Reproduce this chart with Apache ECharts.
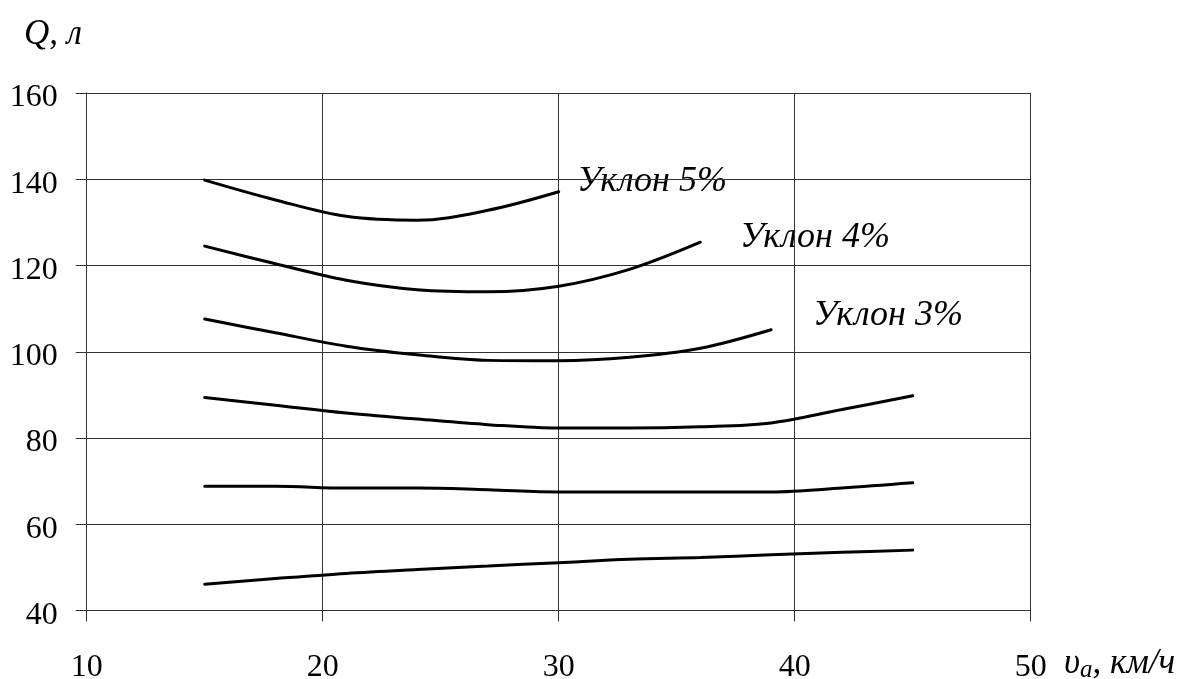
<!DOCTYPE html>
<html><head><meta charset="utf-8">
<script src="https://cdn.jsdelivr.net/npm/echarts@6/dist/echarts.min.js"></script>
<style>html,body{margin:0;padding:0;background:#fff}#c{width:1185px;height:679px}</style>
</head><body><div id="c"></div>
<script>
const speeds = [15, 18, 21, 24, 27, 30, 33, 36, 39, 42, 45];
const slope5 = [139.8, 135.2, 131.4, 130.5, 132.8, 137.1];
const slope4 = [124.5, 120.4, 116.6, 114.4, 113.9, 115.2, 119.1, 125.4];
const slope3 = [107.6, 104.4, 101.3, 99.3, 98.0, 97.9, 98.7, 100.8, 105.1];
const slope2 = [89.4, 87.6, 85.8, 84.4, 83.1, 82.3, 82.3, 82.6, 83.5, 86.6, 89.8];
const slope1 = [68.8, 68.8, 68.4, 68.4, 68.0, 67.5, 67.5, 67.5, 67.5, 68.4, 69.6];
const slope0 = [46.1, 47.4, 48.6, 49.5, 50.3, 51.1, 51.9, 52.3, 52.9, 53.5, 54.0];
const seriesNames = ['Уклон 5%', 'Уклон 4%', 'Уклон 3%', 'Уклон 2%', 'Уклон 1%', 'Уклон 0%'];
const xTicks = [10, 20, 30, 40, 50];
const yTicks = [40, 60, 80, 100, 120, 140, 160];

const font = '"Liberation Serif", "DejaVu Serif", serif';
const all = [slope5, slope4, slope3, slope2, slope1, slope0];
const chart = echarts.init(document.getElementById('c'));
chart.setOption({
  animation: false,
  grid: {left: 86.7, right: 154.3, top: 93, bottom: 68.5, containLabel: false, outerBoundsMode: 'none'},
  xAxis: {
    type: 'value', min: xTicks[0], max: xTicks[xTicks.length - 1], interval: 10,
    axisLine: {show: true, onZero: false, lineStyle: {color: '#333', width: 1}},
    axisTick: {show: true, length: 11, lineStyle: {color: '#333', width: 1}},
    axisLabel: {margin: 41, color: '#000', fontFamily: font, fontSize: 32},
    splitLine: {show: true, lineStyle: {color: '#333', width: 1}}
  },
  yAxis: {
    type: 'value', min: yTicks[0], max: yTicks[yTicks.length - 1], interval: 20,
    axisLine: {show: true, lineStyle: {color: '#333', width: 1}},
    axisTick: {show: true, length: 11, lineStyle: {color: '#333', width: 1}},
    axisLabel: {margin: 29, color: '#000', fontFamily: font, fontSize: 32,
      formatter: '{n|{value}}',
      rich: {n: {fontFamily: font, fontSize: 32, color: '#000', padding: [10, 0, 0, 0]}}},
    splitLine: {show: true, lineStyle: {color: '#333', width: 1}}
  },
  series: all.map((arr, i) => ({
    name: seriesNames[i], type: 'line', smooth: 0.35, symbol: 'none',
    lineStyle: {color: '#000', width: 3, cap: 'round'},
    data: arr.map((v, j) => [speeds[j], v])
  })),
  graphic: [
    {type: 'text', left: 24, top: 17, style: {text: 'Q, л', font: 'italic 35px ' + font, fill: '#000'}},
    {type: 'text', left: 1064, top: 646, style: {
      text: '{v|υ}{s|a}{v|, км/ч}', fill: '#000',
      rich: {v: {font: 'italic 35px ' + font, fill: '#000'}, s: {font: 'italic 25px ' + font, fill: '#000', verticalAlign: 'bottom', padding: [14, 0, 0, 0]}}
    }},
    {type: 'text', left: 577, top: 164, style: {text: 'Уклон 5%', font: 'italic 36px ' + font, fill: '#000'}},
    {type: 'text', left: 740, top: 220, style: {text: 'Уклон 4%', font: 'italic 36px ' + font, fill: '#000'}},
    {type: 'text', left: 813, top: 298, style: {text: 'Уклон 3%', font: 'italic 36px ' + font, fill: '#000'}}
  ]
});
</script></body></html>
